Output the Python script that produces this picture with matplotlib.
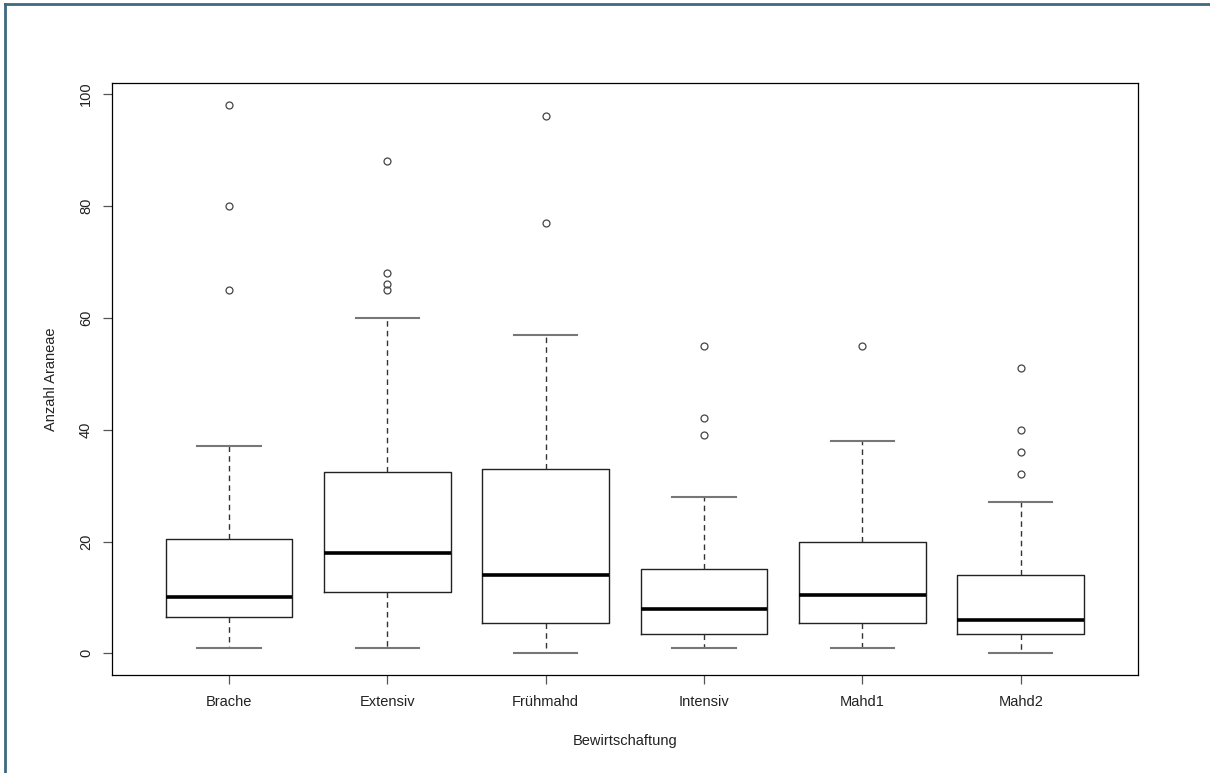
import matplotlib.pyplot as plt
from matplotlib.lines import Line2D

plt.rcParams['font.family'] = ['Liberation Sans', 'DejaVu Sans']

# Werte
kategorien = ["Brache", "Extensiv", "Frühmahd", "Intensiv", "Mahd1", "Mahd2"]
whisk_lo = [1, 1, 0, 1, 1, 0]
q1 = [6.5, 11, 5.5, 3.5, 5.5, 3.5]
median = [10, 18, 14, 8, 10.5, 6]
q3 = [20.5, 32.5, 33, 15, 20, 14]
whisk_hi = [37, 60, 57, 28, 38, 27]
ausreisser = [
    [65, 80, 98],
    [65, 66, 68, 88],
    [77, 96],
    [39, 42, 55],
    [55],
    [32, 36, 40, 51],
]

stats = []
for i, name in enumerate(kategorien):
    stats.append({
        "label": name,
        "whislo": whisk_lo[i],
        "q1": q1[i],
        "med": median[i],
        "q3": q3[i],
        "whishi": whisk_hi[i],
        "fliers": ausreisser[i],
    })

fig = plt.figure(figsize=(12.1, 7.73), dpi=100)
ax = fig.add_axes([0.0923, 0.1264, 0.8482, 0.7658])

ax.bxp(
    stats,
    positions=range(1, 7),
    widths=0.8,
    boxprops=dict(color="#222222", linewidth=1.0),
    whiskerprops=dict(color="#333333", linewidth=1.0, linestyle=(0, (4, 3))),
    capprops=dict(color="#777777", linewidth=1.5),
    capwidths=0.4,
    medianprops=dict(color="black", linewidth=2.6),
    flierprops=dict(marker="o", markersize=5, markerfacecolor="none",
                    markeredgecolor="#444444", markeredgewidth=0.9),
)

ax.set_xlim(0.26, 6.74)
ax.set_ylim(-3.92, 101.92)
ax.set_yticks([0, 20, 40, 60, 80, 100])
ax.set_xticks(range(1, 7))
ax.set_xticklabels(kategorien)

for s in ax.spines.values():
    s.set_linewidth(0.9)
    s.set_color("black")

ax.tick_params(axis="both", direction="out", length=6.5, width=0.9,
               color="#555555", labelsize=10.5, labelcolor="#222222", pad=7)
ax.tick_params(axis="x", pad=8)
for lab in ax.get_yticklabels():
    lab.set_rotation(90)
    lab.set_verticalalignment("center")

ax.set_xlabel("Bewirtschaftung", fontsize=10.5, color="#222222", labelpad=18)
ax.set_ylabel("Anzahl Araneae", fontsize=10.5, color="#222222", labelpad=15)

# dunkler Rahmen oben und links
rand = "#3d6a7e"
fig.add_artist(Line2D([5 / 1210, 5 / 1210], [0, 1 - 4.3 / 773],
                      transform=fig.transFigure, color=rand, linewidth=2))
fig.add_artist(Line2D([5 / 1210, 1], [1 - 4.3 / 773, 1 - 4.3 / 773],
                      transform=fig.transFigure, color=rand, linewidth=2))

fig.savefig("out.png", dpi=100)
